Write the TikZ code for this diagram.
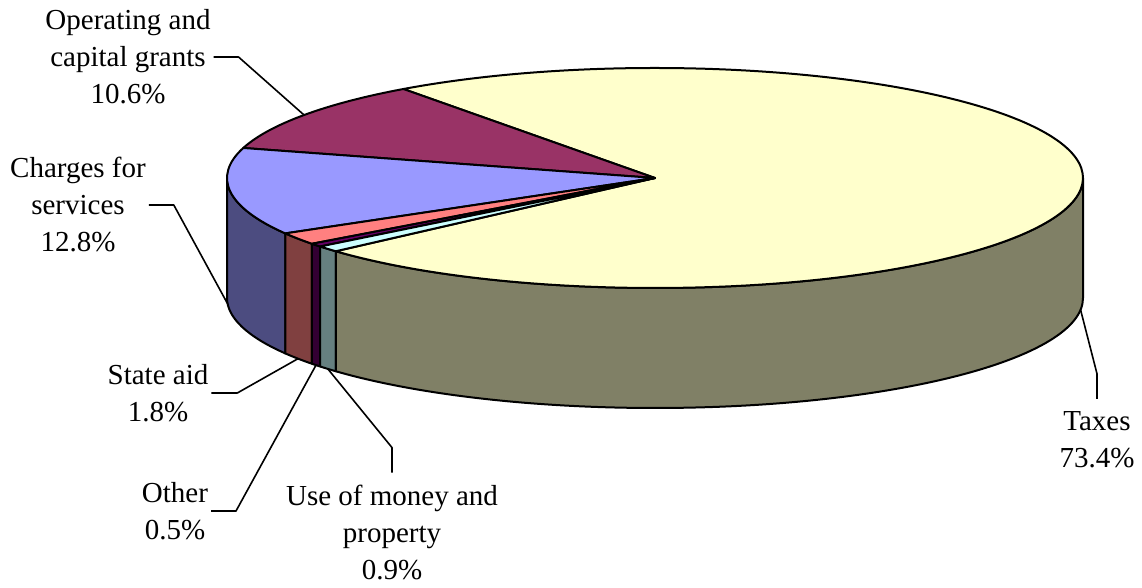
\documentclass[tikz,border=0pt]{standalone}
\usepackage{fontspec}
\setmainfont{Liberation Serif}
\usepackage{tikz}
\usetikzlibrary{calc}
\usetikzlibrary{positioning}

\definecolor{taxTop}{HTML}{FFFFCC}
\definecolor{taxSide}{HTML}{808066}
\definecolor{opTop}{HTML}{993366}
\definecolor{chTop}{HTML}{9999FF}
\definecolor{chSide}{HTML}{4C4C80}
\definecolor{saTop}{HTML}{FF8080}
\definecolor{saSide}{HTML}{804040}
\definecolor{otTop}{HTML}{660066}
\definecolor{otSide}{HTML}{330033}
\definecolor{umTop}{HTML}{CCFFFF}
\definecolor{umSide}{HTML}{668080}

\begin{document}
\begin{tikzpicture}[x=0.5pt, y=0.5pt, line width=1pt, line join=round]
        % Define styles for shapes
        \tikzstyle{slice} = [draw=black, line width=1pt]
        \tikzstyle{label} = [align=center, inner sep=1pt, font=\fontsize{14.5}{18.5}\selectfont]
        \tikzstyle{leader} = [draw=black, line width=0.8pt]
        \useasboundingbox (0,0) rectangle (1142,588);

        % Draw side walls
        \filldraw[slice, fill=chSide] (655,410) ++(180:428 and 110)
            arc[start angle=180, end angle=210.24, x radius=428, y radius=110] -- ++(0,-120)
            arc[start angle=210.24, end angle=180, x radius=428, y radius=110] -- cycle;
        \filldraw[slice, fill=saSide] (655,410) ++(210.24:428 and 110)
            arc[start angle=210.24, end angle=216.72, x radius=428, y radius=110] -- ++(0,-120)
            arc[start angle=216.72, end angle=210.24, x radius=428, y radius=110] -- cycle;
        \filldraw[slice, fill=otSide] (655,410) ++(216.72:428 and 110)
            arc[start angle=216.72, end angle=218.52, x radius=428, y radius=110] -- ++(0,-120)
            arc[start angle=218.52, end angle=216.72, x radius=428, y radius=110] -- cycle;
        \filldraw[slice, fill=umSide] (655,410) ++(218.52:428 and 110)
            arc[start angle=218.52, end angle=221.76, x radius=428, y radius=110] -- ++(0,-120)
            arc[start angle=221.76, end angle=218.52, x radius=428, y radius=110] -- cycle;
        \filldraw[slice, fill=taxSide] (655,410) ++(221.76:428 and 110)
            arc[start angle=221.76, end angle=360, x radius=428, y radius=110] -- ++(0,-120)
            arc[start angle=360, end angle=221.76, x radius=428, y radius=110] -- cycle;

        % Draw top faces
        \filldraw[slice, fill=taxTop] (655,410) -- ++(221.76:428 and 110)
            arc[start angle=221.76, end angle=486, x radius=428, y radius=110] -- cycle;
        \filldraw[slice, fill=opTop] (655,410) -- ++(126:428 and 110)
            arc[start angle=126, end angle=164.16, x radius=428, y radius=110] -- cycle;
        \filldraw[slice, fill=chTop] (655,410) -- ++(164.16:428 and 110)
            arc[start angle=164.16, end angle=210.24, x radius=428, y radius=110] -- cycle;
        \filldraw[slice, fill=saTop] (655,410) -- ++(210.24:428 and 110)
            arc[start angle=210.24, end angle=216.72, x radius=428, y radius=110] -- cycle;
        \filldraw[slice, fill=otTop] (655,410) -- ++(216.72:428 and 110)
            arc[start angle=216.72, end angle=218.52, x radius=428, y radius=110] -- cycle;
        \filldraw[slice, fill=umTop] (655,410) -- ++(218.52:428 and 110)
            arc[start angle=218.52, end angle=221.76, x radius=428, y radius=110] -- cycle;

        % Leader end points on the pie
        \coordinate (pOp) at ($(655,410)+(145.08:428 and 110)$);
        \coordinate (pCh) at ($(655,290)+(183:428 and 110)$);
        \coordinate (pSa) at ($(655,290)+(213.48:428 and 110)$);
        \coordinate (pOt) at ($(655,290)+(217.62:428 and 110)$);
        \coordinate (pUm) at ($(655,290)+(220.14:428 and 110)$);
        \coordinate (pTx) at ($(655,290)+(353.88:428 and 110)$);

        % Draw labels
        \node[label] (op) at (128,531) {Operating and\\capital grants\\10.6\%};
        \node[label] (ch) at (78,383) {Charges for\\services\\12.8\%};
        \node[label] (sa) at (158,195) {State aid\\1.8\%};
        \node[label] (ot) at (175,77) {Other\\0.5\%};
        \node[label] (um) at (392,55) {Use of money and\\property\\0.9\%};
        \node[label] (tx) at (1097,148) {Taxes\\73.4\%};

        % Draw leader lines
        \draw[leader] (op.east) -- ++(25,0) -- (pOp);
        \draw[leader] (ch.east) -- ++(25,0) -- (pCh);
        \draw[leader] (sa.east) -- ++(26,0) -- (pSa);
        \draw[leader] (ot.east) -- ++(25,0) -- (pOt);
        \draw[leader] ([yshift=5pt]um.north) -- ++(0,25) -- (pUm);
        \draw[leader] ([yshift=5pt]tx.north) -- ++(0,25) -- (pTx);
    \end{tikzpicture}
\end{document}
